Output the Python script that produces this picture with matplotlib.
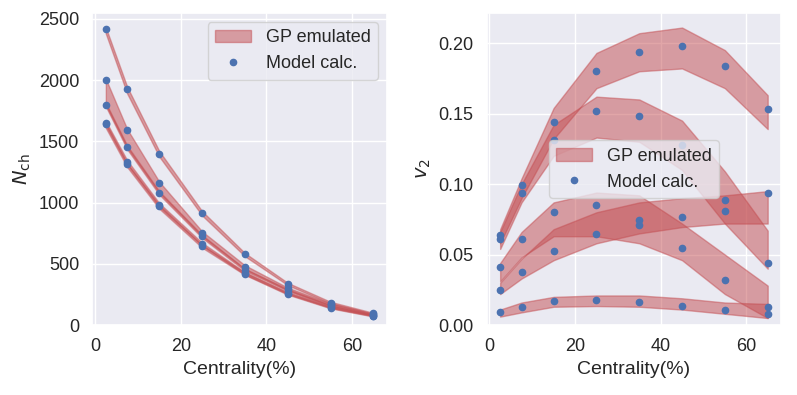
import numpy as np
import matplotlib
matplotlib.use('Agg')
import matplotlib.pyplot as plt
import seaborn as sns

sns.set_theme(color_codes=True)
plt.rcParams['font.family'] = ['Liberation Sans', 'DejaVu Sans']
plt.rcParams['axes.labelsize'] = 14
plt.rcParams['xtick.labelsize'] = 13
plt.rcParams['ytick.labelsize'] = 13
plt.rcParams['legend.fontsize'] = 13

# centrality bin centres (%)
cent = [2.5, 7.5, 15, 25, 35, 45, 55, 65]

# charged multiplicity: model calculations and emulator band, one row per design
nch_model = [
    [2418, 1924, 1400, 916, 577, 336, 183, 96],
    [2003, 1593, 1162, 752, 478, 300, 170, 88],
    [1801, 1451, 1080, 724, 451, 287, 160, 82],
    [1654, 1334, 984, 662, 424, 262, 147, 77],
    [1640, 1312, 970, 645, 420, 256, 142, 74],
]
nch_lo = [
    [2380, 1890, 1375, 895, 562, 326, 176, 90],
    [1800, 1450, 1080, 725, 455, 285, 160, 82],
    [1785, 1435, 1065, 712, 443, 280, 155, 78],
    [1630, 1310, 965, 648, 414, 254, 141, 73],
    [1610, 1290, 950, 632, 410, 249, 137, 70],
]
nch_hi = [
    [2430, 1945, 1420, 930, 588, 345, 190, 100],
    [2010, 1600, 1170, 765, 488, 306, 176, 92],
    [1815, 1465, 1092, 735, 460, 294, 166, 86],
    [1665, 1345, 995, 672, 432, 270, 153, 81],
    [1650, 1322, 980, 655, 428, 263, 148, 78],
]

# elliptic flow v2
v2_model = [
    [0.0636, 0.0993, 0.144, 0.180, 0.194, 0.198, 0.184, 0.153],
    [0.0608, 0.0934, 0.131, 0.152, 0.148, 0.128, 0.089, 0.044],
    [0.0413, 0.0608, 0.0803, 0.0849, 0.0742, 0.0547, 0.0317, 0.0127],
    [0.0249, 0.0373, 0.0526, 0.0645, 0.0713, 0.0765, 0.081, 0.0939],
    [0.0091, 0.0131, 0.0169, 0.0176, 0.0162, 0.0138, 0.0108, 0.0082],
]
v2_lo = [
    [0.058, 0.090, 0.132, 0.168, 0.180, 0.182, 0.168, 0.139],
    [0.054, 0.087, 0.120, 0.133, 0.130, 0.110, 0.072, 0.040],
    [0.031, 0.048, 0.063, 0.063, 0.058, 0.046, 0.022, 0.005],
    [0.022, 0.033, 0.046, 0.058, 0.065, 0.0695, 0.072, 0.072],
    [0.006, 0.009, 0.013, 0.0135, 0.013, 0.011, 0.008, 0.005],
]
v2_hi = [
    [0.068, 0.104, 0.154, 0.193, 0.207, 0.211, 0.195, 0.163],
    [0.066, 0.100, 0.142, 0.162, 0.160, 0.145, 0.109, 0.067],
    [0.044, 0.066, 0.087, 0.094, 0.092, 0.072, 0.050, 0.028],
    [0.030, 0.047, 0.068, 0.080, 0.087, 0.090, 0.092, 0.095],
    [0.011, 0.016, 0.020, 0.021, 0.021, 0.019, 0.016, 0.015],
]

fig, axes = plt.subplots(1, 2, figsize=(7.97, 3.95), dpi=100)
plt.subplots_adjust(left=0.116, right=0.98, top=0.967, bottom=0.177, wspace=0.34)

panels = [
    (axes[0], nch_model, nch_lo, nch_hi, r'$N_{\rm ch}$', 'upper right'),
    (axes[1], v2_model, v2_lo, v2_hi, r'$v_2$', 'center'),
]
for ax, model, lo, hi, ylab, loc in panels:
    for i in range(len(model)):
        ax.fill_between(cent, lo[i], hi[i], color='r', alpha=0.5,
                        label='GP emulated' if i == 0 else None)
    for i in range(len(model)):
        ax.plot(cent, model[i], 'bo', markersize=4.5, zorder=3,
                label='Model calc.' if i == 0 else None)
    ax.set_ylim(bottom=0)
    ax.set_xlabel('Centrality(%)')
    ax.set_ylabel(ylab)
    ax.set_xticks([0, 20, 40, 60])
    ax.legend(loc=loc)

axes[1].set_yticks([0, 0.05, 0.10, 0.15, 0.20])

plt.savefig('out.png', dpi=100)
